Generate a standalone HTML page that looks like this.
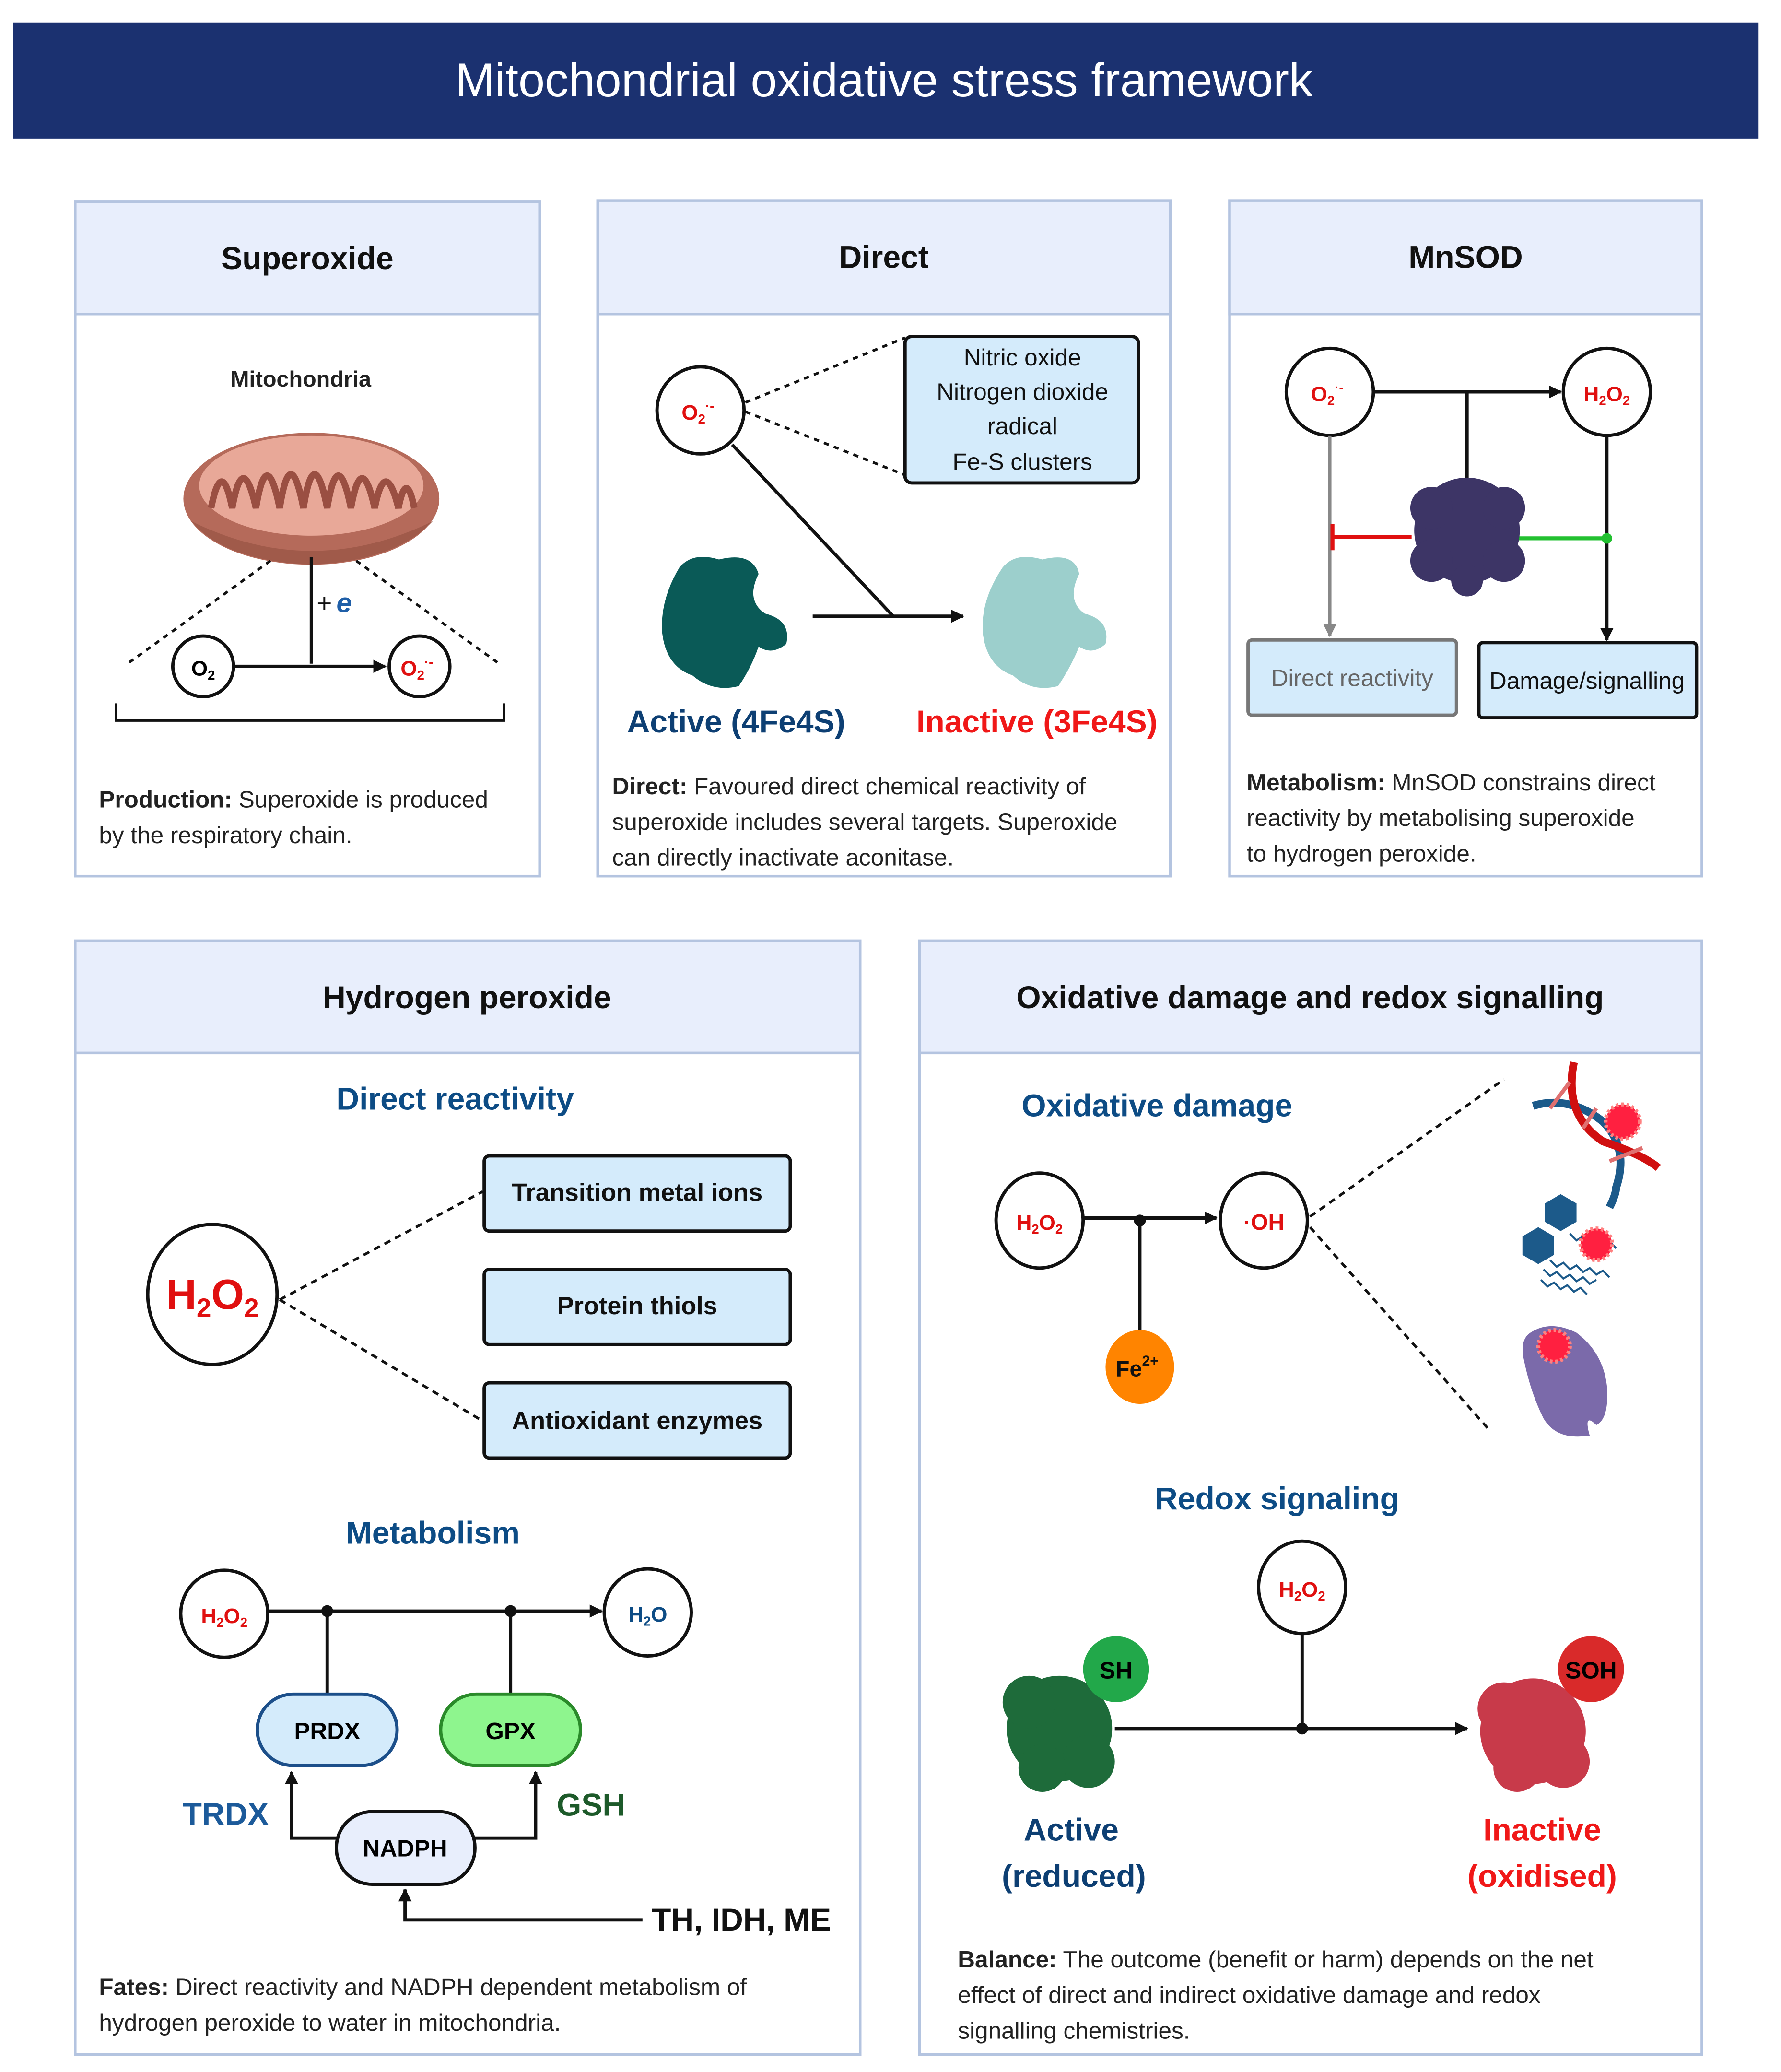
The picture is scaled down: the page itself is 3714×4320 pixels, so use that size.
<!DOCTYPE html>
<html><head><meta charset="utf-8"><style>
html,body{margin:0;padding:0;background:#fff;}
svg{display:block;font-family:"Liberation Sans",sans-serif;}
</style></head><body>
<svg width="3714" height="4320" viewBox="0 0 1350 1570.3" preserveAspectRatio="none" xmlns="http://www.w3.org/2000/svg">
<defs>
<marker id="ah" markerWidth="10" markerHeight="10" refX="9" refY="5" orient="auto" markerUnits="userSpaceOnUse"><path d="M0,0 L10,5 L0,10 z" fill="#111"/></marker>
<marker id="ahg" markerWidth="10" markerHeight="10" refX="9" refY="5" orient="auto" markerUnits="userSpaceOnUse"><path d="M0,0 L10,5 L0,10 z" fill="#888"/></marker>
</defs>
<rect width="1350" height="1570.3" fill="#fff"/>
<!-- title -->
<rect x="10" y="17" width="1323" height="88" fill="#1b3170"/>
<text x="670" y="73" font-size="36" fill="#fff" text-anchor="middle">Mitochondrial oxidative stress framework</text>

<!-- panels -->
<g stroke="#b4c4e0" stroke-width="2">
<rect x="57" y="153" width="352" height="511" fill="#fff"/>
<rect x="57" y="153" width="352" height="85" fill="#e8eefc"/>
<rect x="453" y="152" width="434" height="512" fill="#fff"/>
<rect x="453" y="152" width="434" height="86" fill="#e8eefc"/>
<rect x="932" y="152" width="358" height="512" fill="#fff"/>
<rect x="932" y="152" width="358" height="86" fill="#e8eefc"/>
<rect x="57" y="713" width="595" height="844" fill="#fff"/>
<rect x="57" y="713" width="595" height="85" fill="#e8eefc"/>
<rect x="697" y="713" width="593" height="844" fill="#fff"/>
<rect x="697" y="713" width="593" height="85" fill="#e8eefc"/>
</g>
<g font-size="24" font-weight="bold" text-anchor="middle" fill="#111">
<text x="233" y="204">Superoxide</text>
<text x="670" y="203">Direct</text>
<text x="1111" y="203">MnSOD</text>
<text x="354" y="764">Hydrogen peroxide</text>
<text x="993" y="764">Oxidative damage and redox signalling</text>
</g>

<!-- Panel 1 -->
<text x="228" y="293" font-size="17" font-weight="bold" text-anchor="middle" fill="#222">Mitochondria</text>
<ellipse cx="236" cy="378" rx="97" ry="50" fill="#b56a5a"/>
<ellipse cx="236" cy="368" rx="85" ry="38" fill="#e8a898"/>
<path d="M160,385 Q168,345 176,385 Q184,340 194,385 Q202,336 212,385 Q220,334 230,385 Q238,334 248,385 Q256,336 266,385 Q274,340 284,385 Q292,345 302,385 Q308,355 314,385" fill="none" stroke="#9a4f42" stroke-width="5"/>
<path d="M145,395 Q236,440 328,395 Q300,425 236,428 Q170,425 145,395z" fill="#a05a4a"/>
<line x1="236" y1="422" x2="236" y2="503" stroke="#111" stroke-width="2.5"/>
<text x="240" y="464" font-size="20" fill="#111">+</text><text x="255" y="464" font-size="21" font-style="italic" font-weight="bold" fill="#1f5fa8">e</text>
<line x1="205" y1="425" x2="98" y2="502" stroke="#111" stroke-width="2" stroke-dasharray="4,4"/>
<line x1="270" y1="425" x2="377" y2="502" stroke="#111" stroke-width="2" stroke-dasharray="4,4"/>
<circle cx="154" cy="505" r="23" fill="#fff" stroke="#111" stroke-width="2.5"/>
<text x="154" y="512" font-size="16" font-weight="bold" text-anchor="middle">O<tspan font-size="10" dy="3">2</tspan></text>
<line x1="177" y1="505" x2="292" y2="505" stroke="#111" stroke-width="2.5" marker-end="url(#ah)"/>
<circle cx="318" cy="505" r="23" fill="#fff" stroke="#111" stroke-width="2.5"/>
<text x="316" y="512" font-size="16" font-weight="bold" text-anchor="middle" fill="#e01010">O<tspan font-size="10" dy="3">2</tspan><tspan font-size="10" dy="-10">·-</tspan></text>
<path d="M88,533 V546 H382 V533" fill="none" stroke="#111" stroke-width="2"/>
<text x="75" y="612" font-size="18" fill="#222"><tspan font-weight="bold">Production:</tspan> Superoxide is produced</text>
<text x="75" y="639" font-size="18" fill="#222">by the respiratory chain.</text>

<!-- Panel 2 -->
<circle cx="531" cy="311" r="33" fill="#fff" stroke="#111" stroke-width="2.5"/>
<text x="529" y="318" font-size="16" font-weight="bold" text-anchor="middle" fill="#e01010">O<tspan font-size="10" dy="3">2</tspan><tspan font-size="10" dy="-10">·-</tspan></text>
<line x1="565" y1="305" x2="686" y2="256" stroke="#111" stroke-width="2" stroke-dasharray="4,4"/>
<line x1="565" y1="312" x2="686" y2="360" stroke="#111" stroke-width="2" stroke-dasharray="4,4"/>
<rect x="686" y="255" width="177" height="111" rx="5" fill="#d4ebfb" stroke="#111" stroke-width="2.5"/>
<g font-size="18" text-anchor="middle" fill="#111">
<text x="775" y="277">Nitric oxide</text><text x="775" y="303">Nitrogen dioxide</text><text x="775" y="329">radical</text><text x="775" y="356">Fe-S clusters</text></g>
<line x1="555" y1="337" x2="677" y2="467" stroke="#111" stroke-width="2.5"/>
<line x1="616" y1="467" x2="730" y2="467" stroke="#111" stroke-width="2.5" marker-end="url(#ah)"/>
<path d="M515,430 Q525,418 545,424 Q570,418 575,435 Q565,455 580,465 Q600,470 596,488 Q585,497 575,490 Q570,505 560,520 Q540,525 525,512 Q505,505 502,480 Q500,455 515,430z" fill="#0a5a57"/>
<path d="M760,430 Q770,418 790,424 Q815,418 818,435 Q808,455 822,465 Q842,470 838,488 Q828,497 818,490 Q812,505 802,520 Q782,525 768,512 Q748,505 745,480 Q743,455 760,430z" fill="#9ccfcc"/>
<text x="558" y="555" font-size="24" font-weight="bold" text-anchor="middle" fill="#0d3f73">Active (4Fe4S)</text>
<text x="786" y="555" font-size="24" font-weight="bold" text-anchor="middle" fill="#f01818">Inactive (3Fe4S)</text>
<text x="464" y="602" font-size="18" fill="#222"><tspan font-weight="bold">Direct:</tspan> Favoured direct chemical reactivity of</text>
<text x="464" y="629" font-size="18" fill="#222">superoxide includes several targets. Superoxide</text>
<text x="464" y="656" font-size="18" fill="#222">can directly inactivate aconitase.</text>

<!-- Panel 3 -->
<circle cx="1008" cy="297" r="33" fill="#fff" stroke="#111" stroke-width="2.5"/>
<text x="1006" y="304" font-size="16" font-weight="bold" text-anchor="middle" fill="#e01010">O<tspan font-size="10" dy="3">2</tspan><tspan font-size="10" dy="-10">·-</tspan></text>
<circle cx="1218" cy="297" r="33" fill="#fff" stroke="#111" stroke-width="2.5"/>
<text x="1218" y="304" font-size="16" font-weight="bold" text-anchor="middle" fill="#e01010">H<tspan font-size="10" dy="3">2</tspan><tspan dy="-3">O</tspan><tspan font-size="10" dy="3">2</tspan></text>
<line x1="1041" y1="297" x2="1183" y2="297" stroke="#111" stroke-width="2.5" marker-end="url(#ah)"/>
<line x1="1112" y1="297" x2="1112" y2="365" stroke="#111" stroke-width="2.5"/>
<line x1="1008" y1="330" x2="1008" y2="482" stroke="#888" stroke-width="2.5" marker-end="url(#ahg)"/>
<line x1="1218" y1="330" x2="1218" y2="485" stroke="#111" stroke-width="2.5" marker-end="url(#ah)"/>
<line x1="1070" y1="407" x2="1010" y2="407" stroke="#e01010" stroke-width="3"/>
<line x1="1010" y1="397" x2="1010" y2="417" stroke="#e01010" stroke-width="3"/>
<line x1="1150" y1="408" x2="1218" y2="408" stroke="#22c030" stroke-width="3"/>
<circle cx="1218" cy="408" r="4" fill="#22c030"/>
<g fill="#3d3566"><circle cx="1112" cy="402" r="40"/><circle cx="1085" cy="385" r="16"/><circle cx="1140" cy="385" r="16"/><circle cx="1085" cy="425" r="16"/><circle cx="1140" cy="425" r="16"/><circle cx="1112" cy="440" r="12"/></g>
<rect x="946" y="485" width="158" height="57" rx="3" fill="#d4ebfb" stroke="#777" stroke-width="2.5"/>
<text x="1025" y="520" font-size="18" text-anchor="middle" fill="#666">Direct reactivity</text>
<rect x="1121" y="487" width="165" height="57" rx="3" fill="#d4ebfb" stroke="#111" stroke-width="2.5"/>
<text x="1203" y="522" font-size="18" text-anchor="middle" fill="#111">Damage/signalling</text>
<text x="945" y="599" font-size="18" fill="#222"><tspan font-weight="bold">Metabolism:</tspan> MnSOD constrains direct</text>
<text x="945" y="626" font-size="18" fill="#222">reactivity by metabolising superoxide</text>
<text x="945" y="653" font-size="18" fill="#222">to hydrogen peroxide.</text>

<!-- Panel 4 -->
<text x="345" y="841" font-size="24" font-weight="bold" text-anchor="middle" fill="#0d4c85">Direct reactivity</text>
<ellipse cx="161" cy="981" rx="49" ry="53" fill="#fff" stroke="#111" stroke-width="2.5"/>
<text x="161" y="992" font-size="32" font-weight="bold" text-anchor="middle" fill="#e01010">H<tspan font-size="20" dy="6">2</tspan><tspan dy="-6">O</tspan><tspan font-size="20" dy="6">2</tspan></text>
<line x1="212" y1="985" x2="366" y2="903" stroke="#111" stroke-width="2" stroke-dasharray="5,4"/>
<line x1="212" y1="985" x2="366" y2="1077" stroke="#111" stroke-width="2" stroke-dasharray="5,4"/>
<g fill="#d4ebfb" stroke="#111" stroke-width="2.5">
<rect x="367" y="876" width="232" height="57" rx="4"/><rect x="367" y="962" width="232" height="57" rx="4"/><rect x="367" y="1048" width="232" height="57" rx="4"/></g>
<g font-size="19" font-weight="bold" text-anchor="middle" fill="#111">
<text x="483" y="910">Transition metal ions</text><text x="483" y="996">Protein thiols</text><text x="483" y="1083">Antioxidant enzymes</text></g>
<text x="328" y="1170" font-size="24" font-weight="bold" text-anchor="middle" fill="#0d4c85">Metabolism</text>
<circle cx="170" cy="1223" r="33" fill="#fff" stroke="#111" stroke-width="2.5"/>
<text x="170" y="1230" font-size="16" font-weight="bold" text-anchor="middle" fill="#e01010">H<tspan font-size="10" dy="3">2</tspan><tspan dy="-3">O</tspan><tspan font-size="10" dy="3">2</tspan></text>
<circle cx="491" cy="1222" r="33" fill="#fff" stroke="#111" stroke-width="2.5"/>
<text x="491" y="1229" font-size="16" font-weight="bold" text-anchor="middle" fill="#0d4c85">H<tspan font-size="10" dy="3">2</tspan><tspan dy="-3">O</tspan></text>
<line x1="203" y1="1221" x2="456" y2="1221" stroke="#111" stroke-width="2.5" marker-end="url(#ah)"/>
<circle cx="248" cy="1221" r="4.5" fill="#111"/><circle cx="387" cy="1221" r="4.5" fill="#111"/>
<line x1="248" y1="1221" x2="248" y2="1284" stroke="#111" stroke-width="2.5"/>
<line x1="387" y1="1221" x2="387" y2="1284" stroke="#111" stroke-width="2.5"/>
<rect x="195" y="1284" width="106" height="54" rx="27" fill="#d4ebfb" stroke="#1c4f8a" stroke-width="2.5"/>
<text x="248" y="1318" font-size="18" font-weight="bold" text-anchor="middle">PRDX</text>
<rect x="334" y="1284" width="106" height="54" rx="27" fill="#8ef58e" stroke="#2a8a2a" stroke-width="2.5"/>
<text x="387" y="1318" font-size="18" font-weight="bold" text-anchor="middle">GPX</text>
<rect x="255" y="1373" width="105" height="55" rx="27" fill="#e8eefc" stroke="#111" stroke-width="2.5"/>
<text x="307" y="1407" font-size="18" font-weight="bold" text-anchor="middle">NADPH</text>
<path d="M255,1393 H221 V1343" fill="none" stroke="#111" stroke-width="2.5" marker-end="url(#ah)"/>
<path d="M360,1393 H406 V1343" fill="none" stroke="#111" stroke-width="2.5" marker-end="url(#ah)"/>
<path d="M487,1455 H307 V1432" fill="none" stroke="#111" stroke-width="2.5" marker-end="url(#ah)"/>
<text x="171" y="1383" font-size="24" font-weight="bold" text-anchor="middle" fill="#1c5a9a">TRDX</text>
<text x="448" y="1376" font-size="24" font-weight="bold" text-anchor="middle" fill="#1d5a2a">GSH</text>
<text x="562" y="1463" font-size="24" font-weight="bold" text-anchor="middle" fill="#111">TH, IDH, ME</text>
<text x="75" y="1512" font-size="18" fill="#222"><tspan font-weight="bold">Fates:</tspan> Direct reactivity and NADPH dependent metabolism of</text>
<text x="75" y="1539" font-size="18" fill="#222">hydrogen peroxide to water in mitochondria.</text>

<!-- Panel 5 -->
<text x="877" y="846" font-size="24" font-weight="bold" text-anchor="middle" fill="#0d4c85">Oxidative damage</text>
<ellipse cx="788" cy="925" rx="33" ry="36" fill="#fff" stroke="#111" stroke-width="2.5"/>
<text x="788" y="932" font-size="16" font-weight="bold" text-anchor="middle" fill="#e01010">H<tspan font-size="10" dy="3">2</tspan><tspan dy="-3">O</tspan><tspan font-size="10" dy="3">2</tspan></text>
<ellipse cx="958" cy="925" rx="33" ry="36" fill="#fff" stroke="#111" stroke-width="2.5"/>
<text x="958" y="932" font-size="17" font-weight="bold" text-anchor="middle" fill="#e01010">·OH</text>
<line x1="821" y1="923" x2="922" y2="923" stroke="#111" stroke-width="3" marker-end="url(#ah)"/>
<circle cx="864" cy="925" r="4.5" fill="#111"/>
<line x1="864" y1="925" x2="864" y2="1012" stroke="#111" stroke-width="2.5"/>
<ellipse cx="864" cy="1036" rx="26" ry="28" fill="#ff8400"/>
<text x="862" y="1043" font-size="17" font-weight="bold" text-anchor="middle" fill="#111">Fe<tspan font-size="11" dy="-8">2+</tspan></text>
<line x1="993" y1="922" x2="1140" y2="818" stroke="#111" stroke-width="2" stroke-dasharray="5,4"/>
<line x1="993" y1="930" x2="1130" y2="1085" stroke="#111" stroke-width="2" stroke-dasharray="5,4"/>
<!-- DNA -->
<path d="M1162,838 Q1190,830 1215,850 Q1235,870 1225,900 Q1225,905 1220,915" fill="none" stroke="#1c5a8a" stroke-width="6"/>
<path d="M1193,805 Q1185,845 1215,865 Q1245,875 1257,885" fill="none" stroke="#d01010" stroke-width="6"/>
<g stroke="#e07070" stroke-width="3"><line x1="1175" y1="840" x2="1190" y2="820"/><line x1="1200" y1="855" x2="1210" y2="840"/><line x1="1220" y1="880" x2="1245" y2="870"/></g>
<circle cx="1230" cy="850" r="13" fill="#ff2040" stroke="#ff8080" stroke-width="3" stroke-dasharray="2,2"/>
<!-- lipid -->
<polygon points="1183,905 1195,912 1195,926 1183,933 1171,926 1171,912" fill="#1c5a8a"/>
<polygon points="1166,930 1178,937 1178,951 1166,958 1154,951 1154,937" fill="#1c5a8a"/>
<g fill="none" stroke="#1c5a8a" stroke-width="1.5"><path d="M1190,935 l5,5 l5,-3 l5,5 l5,-3 l5,5 l5,-3 l5,5"/><path d="M1175,955 l5,5 l5,-3 l5,5 l5,-3 l5,5 l5,-3 l5,5 l5,-3 l5,5"/><path d="M1170,962 l5,5 l5,-3 l5,5 l5,-3 l5,5 l5,-3 l5,5 l5,-3"/><path d="M1168,970 l5,5 l5,-3 l5,5 l5,-3 l5,5 l5,-3 l5,5"/></g>
<circle cx="1210" cy="943" r="12" fill="#ff2040" stroke="#ff8080" stroke-width="3" stroke-dasharray="2,2"/>
<!-- protein purple -->
<path d="M1160,1010 Q1175,1000 1195,1010 Q1215,1025 1218,1050 Q1220,1075 1210,1080 Q1200,1070 1205,1088 Q1180,1092 1170,1075 Q1160,1055 1155,1030 Q1152,1015 1160,1010z" fill="#7b6aaa"/>
<circle cx="1178" cy="1020" r="12" fill="#ff2040" stroke="#ff8080" stroke-width="3" stroke-dasharray="2,2"/>
<text x="968" y="1144" font-size="24" font-weight="bold" text-anchor="middle" fill="#0d4c85">Redox signaling</text>
<ellipse cx="987" cy="1203" rx="33" ry="35" fill="#fff" stroke="#111" stroke-width="2.5"/>
<text x="987" y="1210" font-size="16" font-weight="bold" text-anchor="middle" fill="#e01010">H<tspan font-size="10" dy="3">2</tspan><tspan dy="-3">O</tspan><tspan font-size="10" dy="3">2</tspan></text>
<line x1="987" y1="1238" x2="987" y2="1310" stroke="#111" stroke-width="2.5"/>
<circle cx="987" cy="1310" r="4.5" fill="#111"/>
<line x1="845" y1="1310" x2="1112" y2="1310" stroke="#111" stroke-width="2.5" marker-end="url(#ah)"/>
<g fill="#1e6b3a"><circle cx="803" cy="1310" r="40"/><circle cx="780" cy="1290" r="20"/><circle cx="825" cy="1335" r="20"/><circle cx="790" cy="1340" r="18"/></g>
<circle cx="846" cy="1265" r="25" fill="#22a84a"/><text x="846" y="1272" font-size="18" font-weight="bold" text-anchor="middle">SH</text>
<g fill="#c83a4a"><circle cx="1162" cy="1312" r="40"/><circle cx="1140" cy="1295" r="20"/><circle cx="1185" cy="1335" r="20"/><circle cx="1150" cy="1340" r="18"/></g>
<circle cx="1206" cy="1265" r="25" fill="#d92a2a"/><text x="1206" y="1272" font-size="18" font-weight="bold" text-anchor="middle">SOH</text>
<text x="812" y="1395" font-size="24" font-weight="bold" text-anchor="middle" fill="#0d3f73">Active</text>
<text x="814" y="1430" font-size="24" font-weight="bold" text-anchor="middle" fill="#0d3f73">(reduced)</text>
<text x="1169" y="1395" font-size="24" font-weight="bold" text-anchor="middle" fill="#f01818">Inactive</text>
<text x="1169" y="1430" font-size="24" font-weight="bold" text-anchor="middle" fill="#f01818">(oxidised)</text>
<text x="726" y="1491" font-size="18" fill="#222"><tspan font-weight="bold">Balance:</tspan> The outcome (benefit or harm) depends on the net</text>
<text x="726" y="1518" font-size="18" fill="#222">effect of direct and indirect oxidative damage and redox</text>
<text x="726" y="1545" font-size="18" fill="#222">signalling chemistries.</text>
</svg>
</body></html>
